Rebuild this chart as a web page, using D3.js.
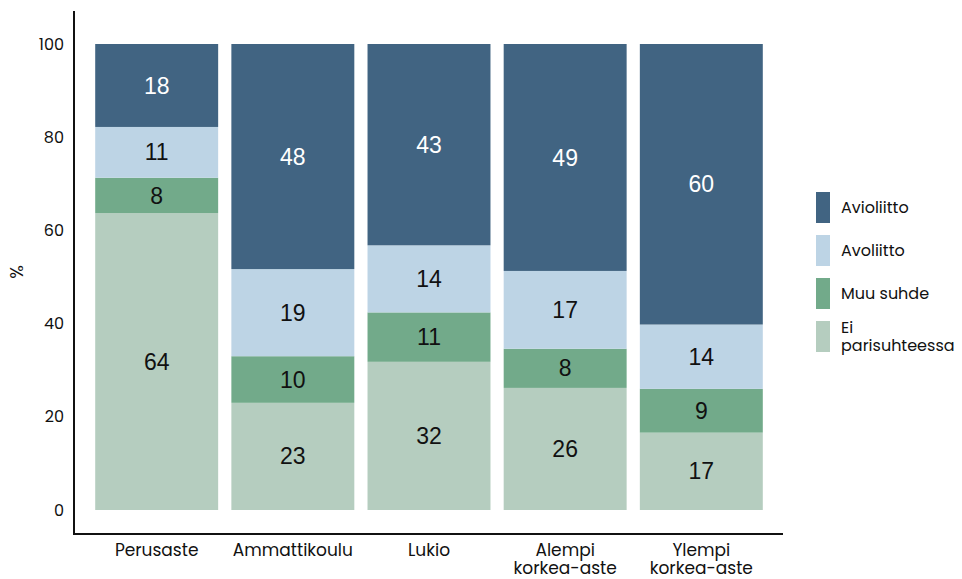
<!DOCTYPE html>
<html>
<head>
<meta charset="utf-8">
<script src="https://cdn.jsdelivr.net/npm/d3@7"></script>
<style>
  body { margin: 0; background: #fff; }
  .axis-text { font-family: Poppins, Inter, sans-serif; font-size: 16px; fill: #111; }
  .bar-label { font-family: "Liberation Sans", Arial, sans-serif; font-size: 23px; }
</style>
</head>
<body>
<svg id="chart" width="962" height="579"></svg>
<script>
// categories and series
var categories = ['Perusaste', 'Ammattikoulu', 'Lukio', 'Alempi korkea-aste', 'Ylempi korkea-aste'];
var seriesNames = ['Ei parisuhteessa', 'Muu suhde', 'Avoliitto', 'Avioliitto'];
var colors = ['#b5cdbf', '#72aa8a', '#bdd4e5', '#416482'];
var labelColors = ['#111', '#111', '#111', '#fff'];

var eiParisuhteessa = [63.7, 23.0, 31.8, 26.2, 16.6];
var muuSuhde        = [7.6, 10.0, 10.6, 8.4, 9.4];
var avoliitto       = [10.9, 18.7, 14.4, 16.7, 13.8];
var avioliitto      = [17.8, 48.3, 43.2, 48.7, 60.2];

var yTicks = [0, 20, 40, 60, 80, 100];

var svg = d3.select('#chart');

var x = d3.scaleBand()
    .domain(categories)
    .range([82, 776])
    .padding(0.097);

var y = d3.scaleLinear()
    .domain([0, 100])
    .range([510, 44]);

// Build the stack table
var table = categories.map(function(c, i) {
  return {
    cat: c,
    'Ei parisuhteessa': eiParisuhteessa[i],
    'Muu suhde': muuSuhde[i],
    'Avoliitto': avoliitto[i],
    'Avioliitto': avioliitto[i]
  };
});
var stacked = d3.stack().keys(seriesNames)(table);

var layers = svg.selectAll('g.layer')
    .data(stacked)
  .enter().append('g')
    .attr('class', 'layer')
    .attr('fill', function(d, i) { return colors[i]; });

layers.selectAll('rect')
    .data(function(d) { return d; })
  .enter().append('rect')
    .attr('x', function(d) { return x(d.data.cat); })
    .attr('y', function(d) { return y(d[1]); })
    .attr('width', x.bandwidth())
    .attr('height', function(d) { return y(d[0]) - y(d[1]); });

layers.selectAll('text')
    .data(function(d, i) { return d.map(function(p) { return {p: p, i: i}; }); })
  .enter().append('text')
    .attr('class', 'bar-label')
    .attr('x', function(d) { return x(d.p.data.cat) + x.bandwidth() / 2; })
    .attr('y', function(d) { return y((d.p[0] + d.p[1]) / 2); })
    .attr('dy', '0.35em')
    .attr('text-anchor', 'middle')
    .attr('fill', function(d) { return labelColors[d.i]; })
    .text(function(d) { return Math.round(d.p[1] - d.p[0]); });

// Axes lines
svg.append('line')
    .attr('x1', 74).attr('x2', 74)
    .attr('y1', 11).attr('y2', 534)
    .attr('stroke', '#111').attr('stroke-width', 2);
svg.append('line')
    .attr('x1', 73).attr('x2', 783)
    .attr('y1', 534).attr('y2', 534)
    .attr('stroke', '#111').attr('stroke-width', 2);

// Y tick labels
svg.selectAll('text.ytick')
    .data(yTicks)
  .enter().append('text')
    .attr('class', 'ytick axis-text')
    .attr('x', 64)
    .attr('y', function(d) { return y(d); })
    .attr('dy', '0.35em')
    .attr('text-anchor', 'end')
    .text(function(d) { return d; });

svg.append('text')
    .attr('class', 'axis-text')
    .attr('transform', 'translate(23,272) rotate(-90)')
    .attr('text-anchor', 'middle')
    .style('font-size', '18px')
    .text('%');

// X labels (wrap on space)
var xl = svg.selectAll('text.xtick')
    .data(categories)
  .enter().append('text')
    .attr('class', 'xtick axis-text')
    .style('font-size', '17px')
    .attr('text-anchor', 'middle')
    .attr('y', 556);
xl.selectAll('tspan')
    .data(function(d) { return d.split(' ').map(function(w) { return {w: w, c: d}; }); })
  .enter().append('tspan')
    .attr('x', function(d) { return x(d.c) + x.bandwidth() / 2; })
    .attr('dy', function(d, i) { return i ? 18 : 0; })
    .text(function(d) { return d.w; });

// Legend
var legendOrder = [3, 2, 1, 0];
var legend = svg.selectAll('g.legend')
    .data(legendOrder)
  .enter().append('g')
    .attr('class', 'legend')
    .attr('transform', function(d, i) { return 'translate(816,' + (192 + i * 43) + ')'; });
legend.append('rect')
    .attr('width', 14)
    .attr('height', 31)
    .attr('fill', function(d) { return colors[d]; });
legend.append('text')
    .attr('class', 'axis-text')
    .style('font-size', '16px')
    .attr('x', 25)
    .each(function(d) {
      var words = d === 0 ? ['Ei', 'parisuhteessa'] : [seriesNames[d]];
      var t = d3.select(this);
      var start = 15.5 - (words.length - 1) * 9;
      words.forEach(function(w, i) {
        t.append('tspan')
          .attr('x', 25)
          .attr('y', start + i * 18)
          .attr('dy', '0.35em')
          .text(w);
      });
    });
</script>
</body>
</html>
